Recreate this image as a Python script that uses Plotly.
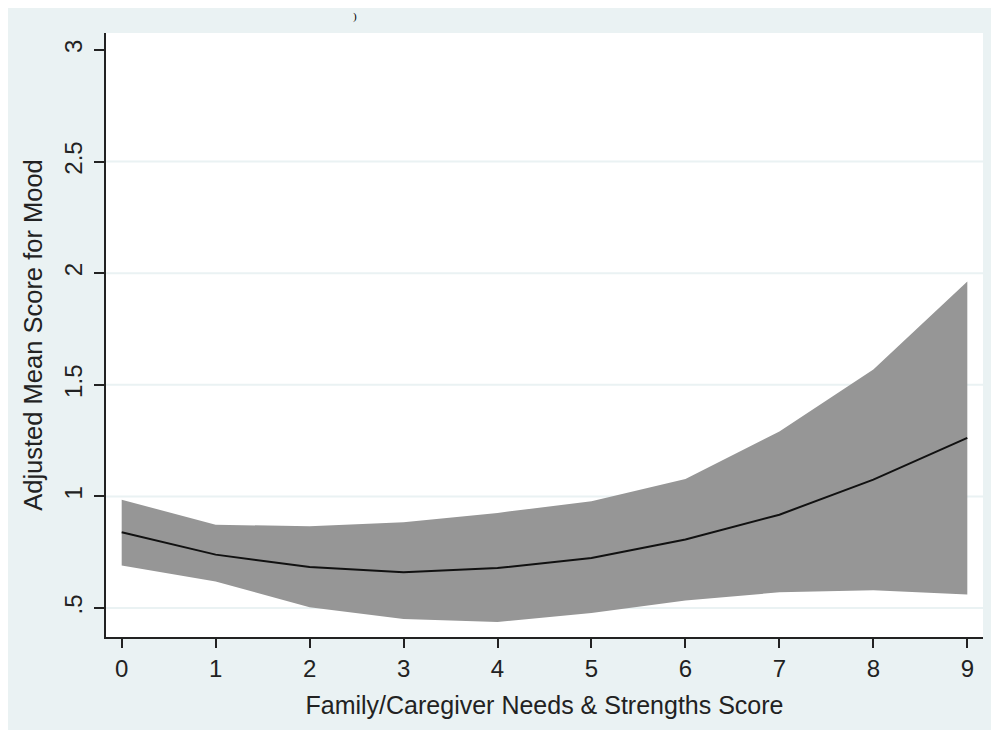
import plotly.graph_objects as go

# ---- data ----
x_scores = [0, 1, 2, 3, 4, 5, 6, 7, 8, 9]
mean_mood = [0.839, 0.739, 0.684, 0.660, 0.679, 0.724, 0.807, 0.918, 1.075, 1.262]
upper_ci = [0.985, 0.873, 0.866, 0.884, 0.926, 0.978, 1.078, 1.291, 1.568, 1.963]
lower_ci = [0.690, 0.619, 0.503, 0.451, 0.437, 0.478, 0.534, 0.570, 0.579, 0.560]

x_ticks = [0, 1, 2, 3, 4, 5, 6, 7, 8, 9]
y_ticks = [0.5, 1, 1.5, 2, 2.5, 3]
y_tick_labels = [".5", "1", "1.5", "2", "2.5", "3"]
grid_ticks = [0.5, 1, 1.5, 2, 2.5]

x_title = "Family/Caregiver Needs & Strengths Score"
y_title = "Adjusted Mean Score for Mood"

# ---- layout geometry (page has an 8px body margin) ----
OFF = 8
W, H = 999 - OFF, 730 - OFF
ML, MT = 106 - OFF, 33 - OFF
MR = W - (983 - OFF)
MB = H - (637 - OFF)
PW, PH = W - ML - MR, H - MT - MB

BG = "#EAF2F3"
FONT = "Liberation Sans, Arial, sans-serif"
INK = "#222222"


def px_to_paper_x(px):
    return (px - OFF - ML) / PW


def px_to_paper_y(py):
    return 1 - (py - OFF - MT) / PH


fig = go.Figure()

# CI band
fig.add_trace(go.Scatter(
    x=x_scores + x_scores[::-1],
    y=upper_ci + lower_ci[::-1],
    fill="toself", fillcolor="#969696",
    line=dict(width=0), mode="lines", hoverinfo="skip", showlegend=False,
))
# mean line
fig.add_trace(go.Scatter(
    x=x_scores, y=mean_mood, mode="lines",
    line=dict(color="#111111", width=2), showlegend=False,
))

shapes = []
# gridlines (none at the top tick)
for g in grid_ticks:
    shapes.append(dict(type="line", xref="paper", yref="y", x0=0, x1=1, y0=g, y1=g,
                       line=dict(color=BG, width=2), layer="below"))

fig.update_layout(
    width=W, height=H,
    margin=dict(l=ML, r=MR, t=MT, b=MB, autoexpand=False),
    paper_bgcolor=BG, plot_bgcolor="white",
    font=dict(family=FONT, color=INK),
    shapes=shapes,
    annotations=[dict(
        text=")", xref="paper", yref="paper",
        x=px_to_paper_x(355), y=px_to_paper_y(OFF),
        xanchor="center", yanchor="top", showarrow=False,
        font=dict(family="Liberation Serif, Times New Roman, serif", size=11, color="black"),
    )],
)

fig.update_xaxes(
    range=[-0.167, 9.167], tickmode="array", tickvals=x_ticks,
    ticks="outside", ticklen=9, tickwidth=2, tickcolor=INK,
    showline=True, linecolor=INK, linewidth=2, showgrid=False, zeroline=False,
    tickfont=dict(size=24, family=FONT, color=INK), ticklabelstandoff=0,
    title=dict(text=x_title, font=dict(size=25, family=FONT, color=INK), standoff=16),
)
fig.update_yaxes(
    range=[0.37, 3.076], tickmode="array", tickvals=y_ticks, ticktext=y_tick_labels,
    tickangle=-90,
    ticks="outside", ticklen=10, tickwidth=2, tickcolor=INK,
    showline=True, linecolor=INK, linewidth=2, showgrid=False, zeroline=False,
    tickfont=dict(size=24, family=FONT, color=INK), ticklabelstandoff=2,
    title=dict(text=y_title, font=dict(size=25.5, family=FONT, color=INK), standoff=10),
)

fig.write_html("out.html")
